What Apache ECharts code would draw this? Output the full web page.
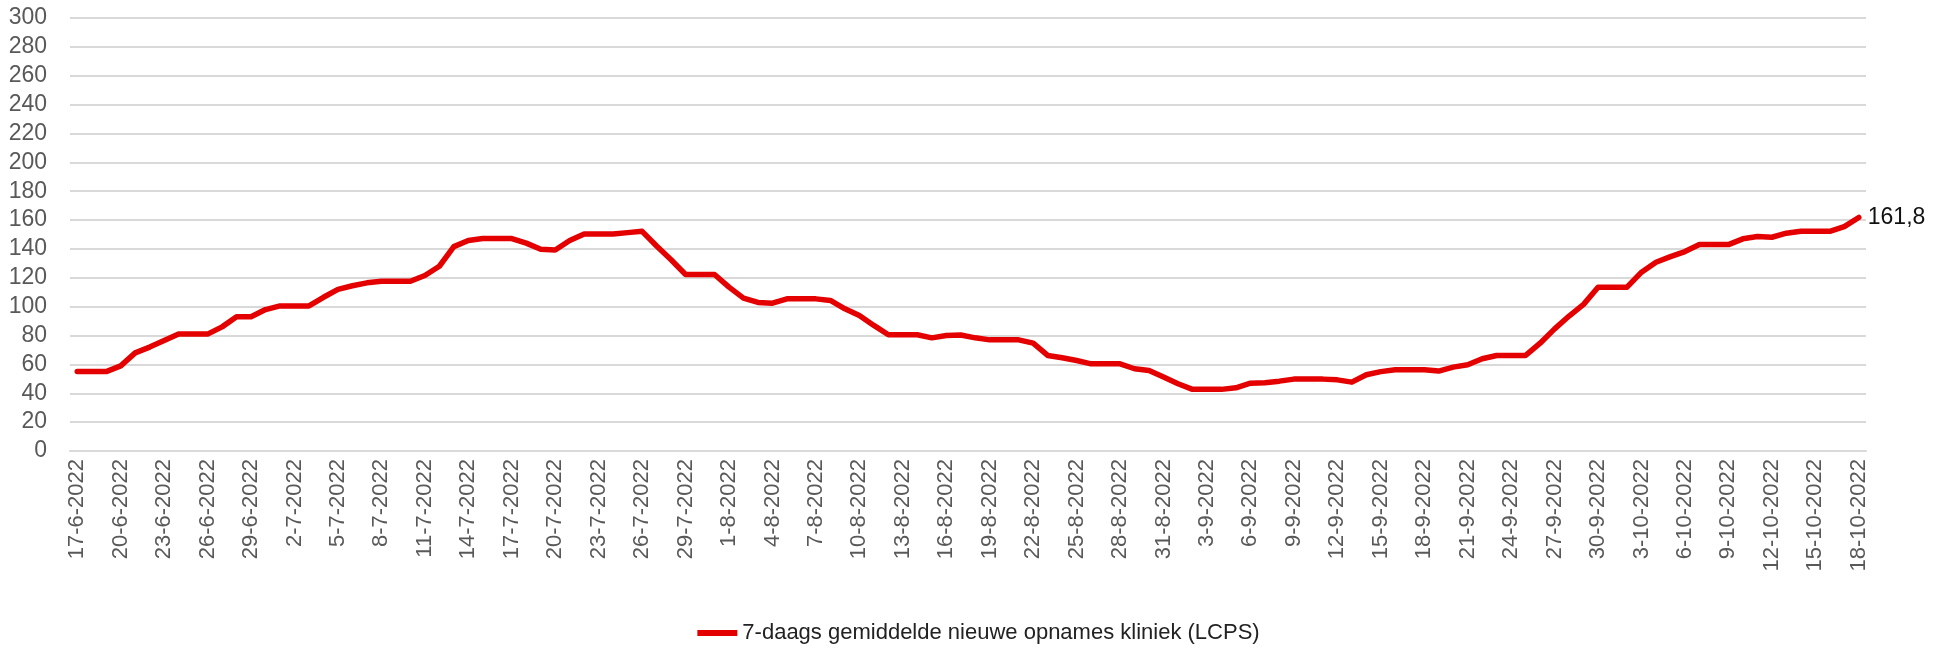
<!DOCTYPE html>
<html>
<head>
<meta charset="utf-8">
<script src="https://cdn.jsdelivr.net/npm/echarts@6/dist/echarts.min.js"></script>
<style>
  html, body { margin: 0; padding: 0; background: #fff; }
  #chart { width: 1957px; height: 653px; }
</style>
</head>
<body>
<div id="chart"></div>
<script>
// daily categories 17-6-2022 .. 18-10-2022
const startDate = new Date(2022, 5, 17);
const dayCount = 124;
const dates = [];
for (let i = 0; i < dayCount; i++) {
  const d = new Date(startDate.getFullYear(), startDate.getMonth(), startDate.getDate() + i);
  dates.push(d.getDate() + "-" + (d.getMonth() + 1) + "-" + d.getFullYear());
}

const seriesName = "7-daags gemiddelde nieuwe opnames kliniek (LCPS)";

// 7-daags gemiddelde
const opnames = [
  55, 55, 55, 59, 68, 72, 76.5, 81, 81, 81,
  86, 93, 93, 98, 100.5, 100.5, 100.5, 106.5, 112, 114.5,
  116.5, 117.6, 117.6, 117.6, 121.6, 128, 141.6, 145.8, 147.2, 147.2,
  147.2, 144, 139.8, 139.3, 145.8, 150.4, 150.4, 150.4, 151.3, 152.2,
  142, 132.5, 122.3, 122.3, 122.3, 113.5, 105.9, 102.9, 102.4, 105.4,
  105.4, 105.4, 104.3, 98.5, 93.9, 87, 80.5, 80.5, 80.5, 78.4,
  80, 80.4, 78.4, 77, 77, 77, 74.7, 66.2, 64.6, 62.7,
  60.4, 60.4, 60.4, 57, 55.8, 51.2, 46.6, 42.7, 42.7, 42.7,
  43.8, 47, 47.3, 48.4, 49.8, 49.8, 49.8, 49.3, 47.7, 52.8,
  55, 56.3, 56.3, 56.3, 55.4, 58.1, 59.7, 63.9, 66.2, 66.2,
  66.2, 74.7, 84.6, 93.5, 101.6, 113.5, 113.5, 113.5, 123.9, 130.8,
  134.7, 138.2, 143, 143, 143, 147, 148.6, 148.1, 150.9, 152.2,
  152.2, 152.2, 155.5, 161.8
];

const chartDom = document.getElementById("chart");
const myChart = echarts.init(chartDom);
let option;

option = {
  animation: false,
  backgroundColor: "#ffffff",
  color: ["#e50000"],
  grid: {
    left: 70,
    right: 91,
    top: 18,
    bottom: 202,
    containLabel: false
  },
  legend: {
    data: [seriesName],
    left: "center",
    top: 617,
    icon: "rect",
    itemWidth: 40,
    itemHeight: 6,
    itemGap: 4,
    textStyle: {
      fontFamily: "Liberation Sans",
      fontSize: 22,
      color: "#222222"
    }
  },
  xAxis: {
    type: "category",
    boundaryGap: true,
    data: dates,
    axisLine: {
      lineStyle: { color: "#d9d9d9", width: 2 }
    },
    axisTick: {
      interval: 2,
      length: 7,
      lineStyle: { color: "#d9d9d9", width: 1.5 }
    },
    axisLabel: {
      interval: 2,
      rotate: 90,
      margin: 8,
      fontFamily: "Liberation Sans",
      fontSize: 22,
      color: "#595959"
    }
  },
  yAxis: {
    type: "value",
    min: 0,
    max: 300,
    interval: 20,
    axisLine: { show: false },
    axisTick: { show: false },
    splitLine: {
      lineStyle: { color: "#d9d9d9", width: 2 }
    },
    axisLabel: {
      margin: 23,
      fontFamily: "Liberation Sans",
      fontSize: 23,
      color: "#595959"
    }
  },
  series: [
    {
      name: seriesName,
      type: "line",
      data: opnames,
      symbol: "none",
      lineStyle: {
        width: 5.5,
        join: "round",
        cap: "round"
      },
      endLabel: {
        show: true,
        distance: 9,
        fontFamily: "Liberation Sans",
        fontSize: 23,
        color: "#111111",
        formatter: p => String(p.value).replace(".", ",")
      }
    }
  ]
};

option && myChart.setOption(option);
</script>
</body>
</html>
